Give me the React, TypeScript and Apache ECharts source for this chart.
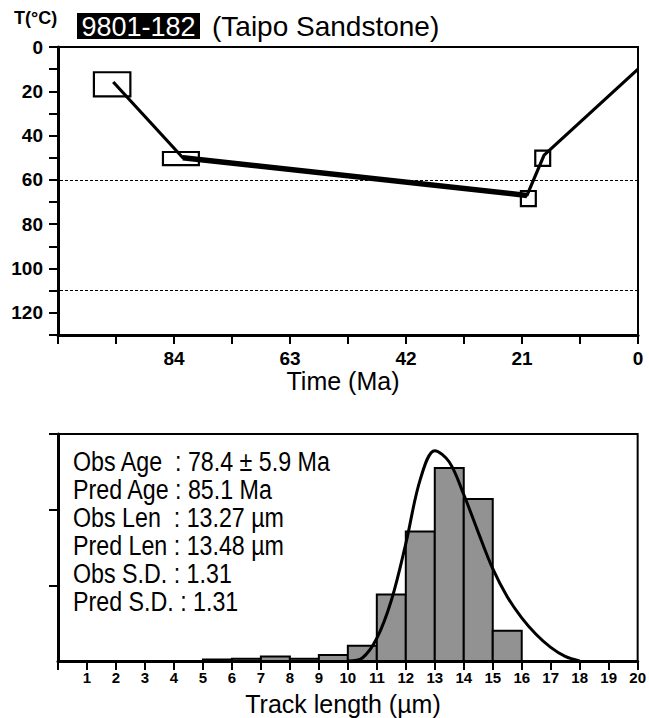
import React, { useEffect, useRef } from "react";
import * as echarts from "echarts";

// ---- Thermal history (top panel) ----
const pathTimes = [95, 82.4, 20.1, 17.0, 0];
const pathTemps = [15.8, 50.0, 67.0, 48.8, 10];
const thickTimes = [82.4, 20.1];
const thickTemps = [50.0, 67.0];
// constraint boxes: [tMin, tMax, TMin, TMax]
const boxes = [
  [91.9, 98.5, 11.4, 22.3],
  [79.5, 86.0, 47.4, 53.3],
  [18.5, 21.2, 65.0, 71.8],
  [15.9, 18.6, 46.8, 53.7],
];
const refTemps = [60, 110];

// ---- Track length histogram (bottom panel) ----
const binStarts = [5, 6, 7, 8, 9, 10, 11, 12, 13, 14, 15];
const binCounts = [0.02, 0.03, 0.06, 0.03, 0.08, 0.2, 0.88, 1.71, 2.55, 2.14, 0.4];
const curveX = [10, 10.5, 11, 11.5, 12, 12.5, 13, 13.5, 14, 14.5, 15, 15.5, 16, 16.5, 17, 17.5, 18];
const curveY = [0, 0.04, 0.3, 0.8, 1.55, 2.4, 2.78, 2.63, 2.2, 1.7, 1.22, 0.85, 0.57, 0.35, 0.18, 0.06, 0];

const infoLines = [
  "Obs Age  : 78.4 ± 5.9 Ma",
  "Pred Age : 85.1 Ma",
  "Obs Len  : 13.27 µm",
  "Pred Len : 13.48 µm",
  "Obs S.D. : 1.31",
  "Pred S.D. : 1.31",
];

const FONT = "'Liberation Sans', Arial, Helvetica, sans-serif";

export default function App() {
  const ref = useRef<HTMLDivElement>(null);
  useEffect(() => {
    document.body.style.margin = "0";
    const chart = echarts.init(ref.current!, null, { renderer: "svg" });

    const axisLine = { onZero: false, lineStyle: { color: "#000", width: 3 } };
    const axisTick = { length: 9, lineStyle: { color: "#000", width: 2 } };

    const option: any = {
      animation: false,
      backgroundColor: "#fff",
      textStyle: { fontFamily: FONT },
      grid: [
        { left: 58, right: 11, top: 47, height: 288, show: true, borderColor: "#000", borderWidth: 2 },
        { left: 58, right: 11, top: 434, height: 227, show: true, borderColor: "#000", borderWidth: 2 },
      ],
      xAxis: [
        {
          gridIndex: 0,
          type: "value",
          min: 0,
          max: 105,
          interval: 10.5,
          inverse: true,
          position: "bottom",
          axisLine,
          axisTick,
          splitLine: { show: false },
          axisLabel: {
            color: "#000",
            fontWeight: "bold",
            fontSize: 19,
            fontFamily: FONT,
            margin: 14,
            formatter: (v: number) => {
              const r = v / 21;
              return Math.abs(r - Math.round(r)) < 1e-6 && v < 100 ? String(Math.round(v)) : "";
            },
          },
        },
        {
          gridIndex: 1,
          type: "value",
          min: 0,
          max: 20,
          interval: 1,
          position: "bottom",
          axisLine,
          axisTick,
          splitLine: { show: false },
          axisLabel: {
            color: "#000",
            fontWeight: "bold",
            fontSize: 15,
            fontFamily: FONT,
            margin: 9,
            formatter: (v: number) => (v === 0 ? "" : String(v)),
          },
        },
      ],
      yAxis: [
        {
          gridIndex: 0,
          type: "value",
          min: 0,
          max: 130,
          interval: 10,
          inverse: true,
          position: "left",
          axisLine,
          axisTick,
          splitLine: { show: false },
          axisLabel: {
            color: "#000",
            fontWeight: "bold",
            fontSize: 19,
            fontFamily: FONT,
            margin: 15,
            formatter: (v: number) => (v % 20 === 0 && v <= 120 ? String(v) : ""),
          },
        },
        {
          gridIndex: 1,
          type: "value",
          min: 0,
          max: 3,
          interval: 1,
          position: "left",
          axisLine,
          axisTick: { ...axisTick, customValues: [1, 2, 3] },
          splitLine: { show: false },
          axisLabel: { show: false },
        },
      ],
      series: [
        {
          type: "custom",
          xAxisIndex: 0,
          yAxisIndex: 0,
          encode: { x: [0, 1], y: [2, 3] },
          data: boxes,
          renderItem: (params: any, api: any) => {
            const p0 = api.coord([api.value(1), api.value(2)]);
            const p1 = api.coord([api.value(0), api.value(3)]);
            return {
              type: "rect",
              shape: { x: p0[0], y: p0[1], width: p1[0] - p0[0], height: p1[1] - p0[1] },
              style: { fill: "none", stroke: "#000", lineWidth: 2.2 },
            };
          },
          z: 3,
        },
        {
          type: "line",
          xAxisIndex: 0,
          yAxisIndex: 0,
          data: pathTimes.map((t, i) => [t, pathTemps[i]]),
          symbol: "none",
          lineStyle: { color: "#000", width: 3.2 },
          z: 4,
          markLine: {
            silent: true,
            symbol: "none",
            label: { show: false },
            lineStyle: { color: "#000", width: 1, type: [3, 2] },
            data: refTemps.map((v) => ({ yAxis: v })),
          },
        },
        {
          type: "line",
          xAxisIndex: 0,
          yAxisIndex: 0,
          data: thickTimes.map((t, i) => [t, thickTemps[i]]),
          symbol: "none",
          lineStyle: { color: "#000", width: 5.5 },
          z: 4,
        },
        {
          type: "custom",
          xAxisIndex: 1,
          yAxisIndex: 1,
          encode: { x: 0, y: 1 },
          data: binStarts.map((s, i) => [s, binCounts[i]]),
          renderItem: (params: any, api: any) => {
            const s = api.value(0);
            const h = api.value(1);
            const p0 = api.coord([s, 0]);
            const p1 = api.coord([s + 1, h]);
            return {
              type: "rect",
              shape: { x: p0[0], y: p1[1], width: p1[0] - p0[0], height: p0[1] - p1[1] },
              style: { fill: "#929292", stroke: "#000", lineWidth: 2 },
            };
          },
          z: 2,
        },
        {
          type: "line",
          xAxisIndex: 1,
          yAxisIndex: 1,
          data: curveX.map((x, i) => [x, curveY[i]]),
          symbol: "none",
          smooth: 0.35,
          lineStyle: { color: "#000", width: 3 },
          z: 4,
        },
      ],
      graphic: [
        {
          type: "text",
          x: 14,
          y: 18,
          style: { text: "T(°C)", font: `bold 18px ${FONT}`, fill: "#000", verticalAlign: "middle" },
        },
        { type: "rect", shape: { x: 77, y: 13, width: 123, height: 26 }, style: { fill: "#000" } },
        {
          type: "text",
          x: 138.5,
          y: 26.5,
          style: { text: "9801-182", font: `27px ${FONT}`, fill: "#fff", align: "center", verticalAlign: "middle" },
        },
        {
          type: "text",
          x: 212,
          y: 26.5,
          style: { text: "(Taipo Sandstone)", font: `28px ${FONT}`, fill: "#000", verticalAlign: "middle" },
        },
        {
          type: "text",
          x: 343,
          y: 381,
          style: { text: "Time (Ma)", font: `25px ${FONT}`, fill: "#000", align: "center", verticalAlign: "middle" },
        },
        {
          type: "text",
          x: 343,
          y: 704,
          style: { text: "Track length (µm)", font: `25px ${FONT}`, fill: "#000", align: "center", verticalAlign: "middle" },
        },
        {
          type: "group",
          x: 73,
          y: 0,
          scaleX: 0.83,
          children: infoLines.map((t, i) => ({
            type: "text",
            x: 0,
            y: 461.5 + i * 28,
            style: { text: t, font: `28px ${FONT}`, fill: "#000", verticalAlign: "middle" },
          })),
        },
      ],
    };
    chart.setOption(option);
    return () => chart.dispose();
  }, []);
  return <div ref={ref} style={{ width: 649, height: 718 }} />;
}
